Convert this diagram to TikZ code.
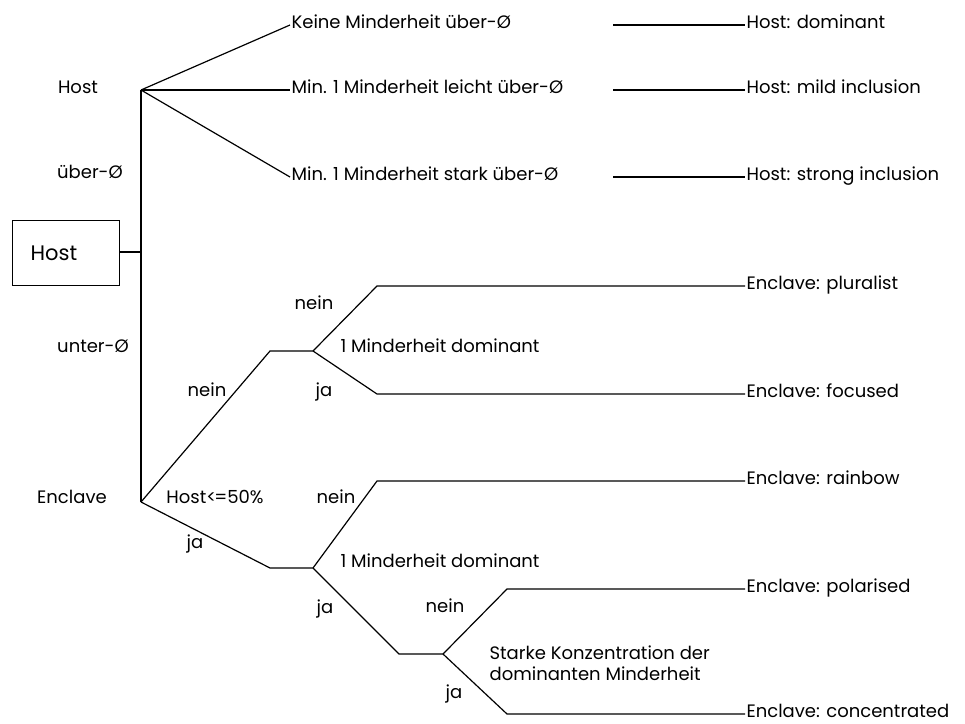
\documentclass[tikz,border=0pt]{standalone}
\usepackage{fontspec}
\setmainfont{Poppins}
\usetikzlibrary{calc}

\begin{document}
\begin{tikzpicture}[x=1pt, y=-1pt, line width=1.2pt, font=\fontsize{18}{21}\selectfont,
    lbl/.style={inner sep=0pt, text height=1.5ex, text depth=.3ex},
    leaf/.style={lbl, anchor=west, inner xsep=1pt},
    box/.style={draw, anchor=north west, minimum height=65pt, inner xsep=18pt, text width=71pt, align=left, font=\fontsize{21}{25}\selectfont}]
                    \useasboundingbox (0,0) rectangle (965,723);
                    \node[box] (hostbox) at (12,220) {Host};
                    \coordinate (root) at (141,252);
                    \coordinate (hosttop) at (141,90);
                    \coordinate (enctop) at (141,502);
                    \draw (hostbox.east |- root) -- (root);
                    \draw (hosttop) -- (enctop);
                    \node[lbl] (lhost) at (78,90) {Host};
                    \node[lbl] (lueber) at (90,175) {über-Ø};
                    \node[lbl] (lunter) at (93,349) {unter-Ø};
                    \node[lbl] (lenclave) at (72,500) {Enclave};
                    \node[leaf] (keine) at (290,25) {Keine Minderheit über-Ø};
                    \node[leaf] (leicht) at (290,90) {Min. 1 Minderheit leicht über-Ø};
                    \node[leaf] (stark) at (290,177) {Min. 1 Minderheit stark über-Ø};
                    \draw (hosttop) -- (keine.west);
                    \draw (hosttop) -- (leicht.west);
                    \draw (hosttop) -- (stark.west);
                    \node[leaf] (hdom) at (745,25) {Host: dominant};
                    \node[leaf] (hmild) at (745,90) {Host: mild inclusion};
                    \node[leaf] (hstrong) at (745,177) {Host: strong inclusion};
                    \coordinate (s1) at (613,25);
                    \coordinate (s2) at (613,90);
                    \coordinate (s3) at (613,177);
                    \draw (s1) -- (hdom.west);
                    \draw (s2) -- (hmild.west);
                    \draw (s3) -- (hstrong.west);
                    \coordinate (n1a) at (270,351);
                    \coordinate (n1b) at (313,351);
                    \coordinate (pl) at (377,286);
                    \coordinate (fo) at (377,394);
                    \node[leaf] (epl) at (745,286) {Enclave: pluralist};
                    \node[leaf] (efo) at (745,394) {Enclave: focused};
                    \draw (enctop) -- (n1a) -- (n1b) -- (pl) -- (epl.west);
                    \draw (n1b) -- (fo) -- (efo.west);
                    \coordinate (j1a) at (270,568);
                    \coordinate (j1b) at (313,568);
                    \coordinate (ra) at (377,481);
                    \coordinate (j2a) at (399,654);
                    \coordinate (j2b) at (443,654);
                    \coordinate (po) at (507,589);
                    \coordinate (co) at (507,714);
                    \node[leaf] (era) at (745,481) {Enclave: rainbow};
                    \node[leaf] (epo) at (745,589) {Enclave: polarised};
                    \node[leaf] (eco) at (745,714) {Enclave: concentrated};
                    \draw (enctop) -- (j1a) -- (j1b) -- (ra) -- (era.west);
                    \draw (j1b) -- (j2a) -- (j2b) -- (po) -- (epo.west);
                    \draw (j2b) -- (co) -- (eco.west);
                    \node[lbl] (lquote) at (215,500) {Host<\kern-2pt=50\%};
                    \node[lbl] (lnein1) at (207,393) {nein};
                    \node[lbl] (lja1) at (195,545) {ja};
                    \node[lbl] (lnein2) at (314,306) {nein};
                    \node[lbl, anchor=west] (ldom1) at (340,349) {1 Minderheit dominant};
                    \node[lbl] (lja2) at (324,393) {ja};
                    \node[lbl] (lnein3) at (336,500) {nein};
                    \node[lbl, anchor=west] (ldom2) at (340,564) {1 Minderheit dominant};
                    \node[lbl] (lja3) at (325,610) {ja};
                    \node[lbl] (lnein4) at (445,609) {nein};
                    \node[anchor=west, inner sep=0pt, align=left] (lkonz) at (489,663) {Starke Konzentration der\\dominanten Minderheit};
                    \node[lbl] (lja4) at (454,695) {ja};
                \end{tikzpicture}
\end{document}
